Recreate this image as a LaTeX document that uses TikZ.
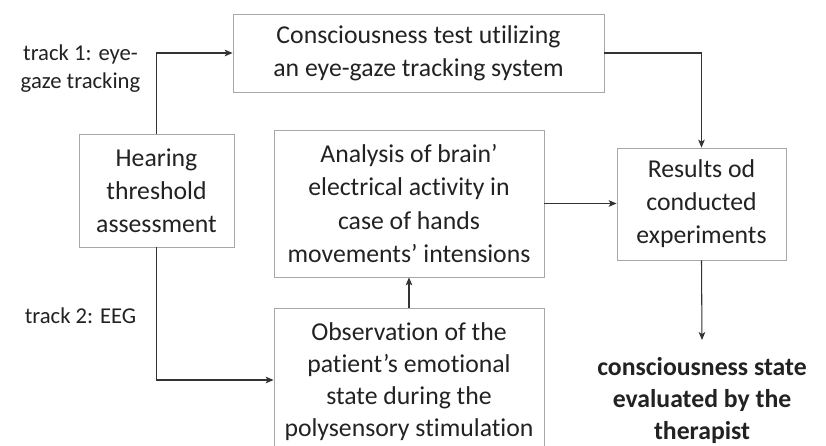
\documentclass[tikz,border=0pt]{standalone}
\usepackage{fontspec}
\setmainfont[Ligatures=NoCommon]{Carlito}
\usetikzlibrary{arrows.meta}
\definecolor{txt}{HTML}{222222}
\definecolor{frame}{HTML}{A8A8A8}
\definecolor{wire}{HTML}{333333}
\tikzset{
  stage/.style={draw=frame, line width=0.6pt, rectangle, align=center, text=txt,
    inner sep=0pt, font=\fontsize{19.3}{24.8}\selectfont},
  tracklabel/.style={align=center, text=txt, inner sep=0pt,
    font=\fontsize{17}{21}\selectfont},
  outcome/.style={align=center, text=txt, inner sep=2pt,
    font=\bfseries\fontsize{19.3}{24}\selectfont},
  flow/.style={draw=wire, line width=0.8pt, -{Stealth[length=6pt, width=5pt, inset=1.5pt]}}
}
\begin{document}
\begin{tikzpicture}[x=0.75pt, y=-0.75pt]
\useasboundingbox (0,0) rectangle (826,446);
\begin{scope}
\clip (0,0) rectangle (826,446);
\node[stage, minimum width=278.25pt, minimum height=58.5pt] (eye) at (418.5,53)
  {Consciousness test utilizing\\an eye-gaze tracking system};
\node[stage, minimum width=116.25pt, minimum height=84.75pt] (hear) at (156.5,190.5)
  {Hearing\\threshold\\assessment};
\node[stage, minimum width=202.5pt, minimum height=110.25pt] (brain) at (409,203.5)
  {Analysis of brain’\\electrical activity in\\case of hands\\movements’ intensions};
% the lower box runs past the bottom edge, so its frame and text are placed apart
\node[stage, minimum width=202.5pt, minimum height=108pt] (emo) at (409,380) {};
\node[align=center, text=txt, inner sep=0pt, font=\fontsize{19.3}{24}\selectfont] (emotxt) at (409,382)
  {Observation of the\\patient’s emotional\\state during the\\polysensory stimulation};
\node[stage, minimum width=126.75pt, minimum height=84pt] (res) at (701.5,204)
  {Results od\\conducted\\experiments};
\end{scope}
\node[outcome] (eval) at (702,400) {consciousness state\\evaluated by the\\therapist};
\node[tracklabel] (t1) at (80.5,69) {track 1: eye-\\gaze tracking};
\node[tracklabel] (t2) at (80.5,316) {track 2: EEG};

\coordinate (c1) at (hear.north |- eye.west);
\coordinate (c2) at (hear.south |- emo.west);
\coordinate (c3) at (res.north |- eye.east);
\coordinate (evtop) at (702,340);
\draw[flow] (hear.north) -- (c1) -- (eye.west);
\draw[flow] (hear.south) -- (c2) -- (emo.west);
\draw[flow] (eye.east) -- (c3) -- (res.north);
\draw[flow] (brain.east) -- (brain.east -| res.west);
\draw[flow] (emo.north) -- (brain.south);
\draw[flow] (res.south) -- (evtop);
\end{tikzpicture}
\end{document}
